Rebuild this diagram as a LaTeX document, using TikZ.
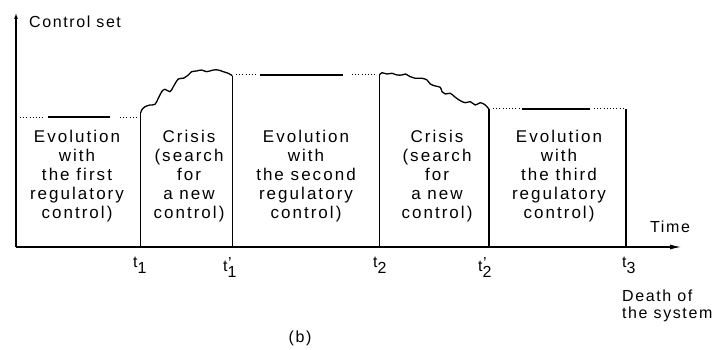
\documentclass[tikz,border=0pt]{standalone}
\usepackage{fontspec}
\setmainfont{Liberation Sans}[LetterSpace=10]
\usetikzlibrary{arrows.meta}
\newcommand{\tlab}[2]{t\rlap{\kern0.5pt\raisebox{3pt}{#2}}\raisebox{-6pt}{#1}}
\begin{document}
\begin{tikzpicture}[x=1pt,y=-1pt,
  txt/.style={font=\fontsize{17}{19}\selectfont\addfontfeatures{LetterSpace=12}, align=center, inner sep=0pt, anchor=north},
  lbl/.style={font=\fontsize{16}{17}\selectfont, inner sep=0pt},
  axis/.style={line width=1.1pt},
  vline/.style={line width=1.4pt},
  dotline/.style={line width=1pt, dash pattern=on 1pt off 2.2pt},
  solidline/.style={line width=1.3pt},
  crisis/.style={line width=1.3pt, line join=round}]
\useasboundingbox (0,0) rectangle (719,350);
% axes
\coordinate (O) at (16,247);
\coordinate (Ytop) at (16,13);
\coordinate (Xend) at (681,247);
\draw[axis, -{Latex[length=6pt,width=4pt]}] (O) -- (Ytop);
\draw[axis, -{Latex[length=11pt,width=5pt]}] (O) -- (Xend);
% time points
\coordinate (t1) at (140.7,247);  \coordinate (t1top) at (140.7,113);
\coordinate (t1p) at (232.3,247); \coordinate (t1ptop) at (232.3,75.7);
\coordinate (t2) at (379.5,247);  \coordinate (t2top) at (379.5,75);
\coordinate (t2p) at (489,247);   \coordinate (t2ptop) at (489,109.3);
\coordinate (t3) at (626,247);    \coordinate (t3top) at (626,109);
\draw[vline] (t1) -- (t1top);
\draw[vline] (t1p) -- (t1ptop);
\draw[vline] (t2) -- (t2top);
\draw[vline] (t2p) -- (t2ptop);
\draw[vline] (t3) -- (t3top);
% level 1
\draw[dotline] (20,117) -- (44,117);
\draw[solidline] (48,117) -- (110,117);
\draw[dotline] (120,117) -- (138,117);
% level 2
\draw[dotline] (236,75) -- (256,75);
\draw[solidline] (260,75) -- (343,75);
\draw[dotline] (352,75) -- (377,75);
% level 3
\draw[dotline] (493,109) -- (520,109);
\draw[solidline] (522,109) -- (590,109);
\draw[dotline] (594,109) -- (624,109);
% crisis 1
\draw[crisis] plot[smooth, tension=0.55] coordinates {
 (140.7,113) (141.7,110) (145,106.7) (150,105) (155,104.3) (158.3,98.3)
 (161.7,91.7) (165,89.3) (170,91.7) (173.3,86.7) (178.3,79) (183.3,78.3)
 (188.3,75) (191.7,71.7) (196.7,71) (201.7,70) (206.7,71.7) (213.3,70)
 (218.3,70) (223.3,71.7) (228.3,73.3) (232.3,75.7)};
% crisis 2
\draw[crisis] plot[smooth, tension=0.55] coordinates {
 (379.5,75) (382,72.7) (387,74) (392,73.3) (397,75) (402,75) (405.3,74)
 (410.3,76.7) (415.3,78.3) (422,78.3) (427,80) (430.3,84) (435.3,86)
 (440.3,87.3) (442,91.7) (445.3,94) (450.3,93.3) (455.3,97.3) (460.3,100.7)
 (465.3,102.7) (470.3,101.7) (475.3,105) (480.3,102.7) (485.3,105) (489,109.3)};
% texts
\node[txt] (e1) at (77,130) {Evolution\\with\\the first\\regulatory\\control)};
\node[txt] (c1) at (189,130) {Crisis\\(search\\for\\a new\\control)};
\node[txt] (e2) at (306,130) {Evolution\\with\\the second\\regulatory\\control)};
\node[txt] (c2) at (437,130) {Crisis\\(search\\for\\a new\\control)};
\node[txt] (e3) at (559,130) {Evolution\\with\\the third\\regulatory\\control)};
% axis labels
\node[lbl, anchor=base west] (cs) at (29,28) {Control set};
\node[lbl, anchor=base west] (time) at (650,232) {Time};
\node[lbl, anchor=north west, align=left] (death) at (622,290) {Death of\\the system};
\node[lbl, anchor=center] (b) at (300,338) {(b)};
% time labels
\node[lbl, anchor=north west] (l1) at (133,257) {\tlab{1}{}};
\node[lbl, anchor=north west] (l1p) at (223,257) {\tlab{1}{’}};
\node[lbl, anchor=north west] (l2) at (373,257) {\tlab{2}{}};
\node[lbl, anchor=north west] (l2p) at (478,257) {\tlab{2}{’}};
\node[lbl, anchor=north west] (l3) at (622,257) {\tlab{3}{}};
\end{tikzpicture}
\end{document}
